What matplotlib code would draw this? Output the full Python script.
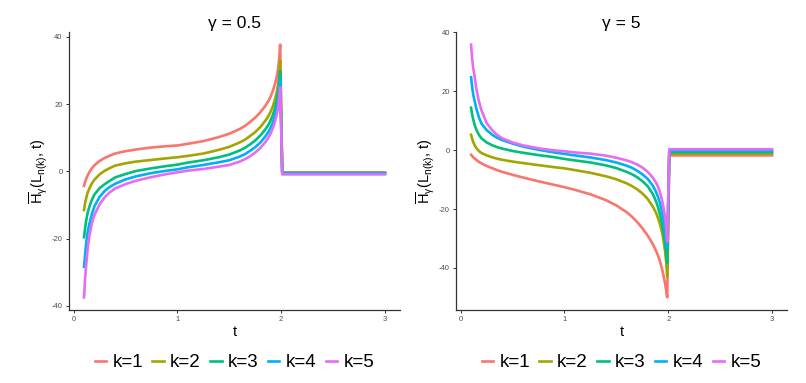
import matplotlib
matplotlib.use("Agg")
import matplotlib.pyplot as plt

plt.rcParams['font.family'] = ['Liberation Sans', 'DejaVu Sans']
plt.rcParams['mathtext.fontset'] = 'custom'
plt.rcParams['mathtext.rm'] = 'Liberation Sans'
plt.rcParams['mathtext.it'] = 'Liberation Sans'
plt.rcParams['mathtext.default'] = 'regular'
plt.rcParams['axes.unicode_minus'] = False

# valeurs
t = [0.1, 0.11, 0.12, 0.135, 0.15, 0.175, 0.2, 0.25, 0.3, 0.35, 0.4, 0.5, 0.6,
     0.75, 0.9, 1.0, 1.1, 1.25, 1.4, 1.5, 1.6, 1.65, 1.7, 1.75, 1.8, 1.85,
     1.88, 1.9, 1.92, 1.94, 1.96, 1.97, 1.98, 1.99, 2.01, 3.0]

labels = ["k=1", "k=2", "k=3", "k=4", "k=5"]
colors = ["#F8766D", "#A3A500", "#00BF7D", "#00B0F6", "#E76BF3"]

# gamma = 0.5
g05_k1 = [-4.3, -3.2, -2.3, -1.2, -0.3, 0.9, 1.8, 3.1, 4.0, 4.7, 5.3, 6.0, 6.5,
          7.1, 7.5, 7.7, 8.2, 9.0, 10.2, 11.2, 12.6, 13.5, 14.7, 16.0, 17.6, 19.6,
          21.1, 22.4, 24.0, 26.0, 28.6, 30.5, 33.2, 37.7, -0.4, -0.4]
g05_k2 = [-11.5, -9.4, -8.1, -6.3, -5.2, -3.6, -2.5, -0.9, 0.2, 1.0, 1.7, 2.4, 2.9,
          3.4, 3.9, 4.2, 4.6, 5.3, 6.4, 7.3, 8.6, 9.4, 10.5, 11.7, 13.2, 15.2,
          16.6, 17.9, 19.4, 21.4, 24.0, 25.9, 28.6, 33.0, -0.45, -0.45]
g05_k3 = [-19.6, -17.0, -14.8, -12.3, -10.7, -8.5, -6.9, -5.0, -3.8, -2.8, -1.8, -0.8, 0.1,
          0.9, 1.6, 2.0, 2.6, 3.3, 4.2, 5.0, 6.2, 7.0, 8.0, 9.2, 10.7, 12.6,
          14.0, 15.3, 16.8, 18.8, 21.4, 23.2, 25.8, 29.8, -0.5, -0.5]
g05_k4 = [-28.4, -25.0, -21.5, -18.0, -15.8, -12.8, -10.4, -7.6, -5.8, -4.6, -3.7, -2.4, -1.5,
          -0.5, 0.2, 0.6, 1.2, 1.9, 2.7, 3.3, 4.4, 5.1, 6.1, 7.2, 8.6, 10.5,
          11.9, 13.1, 14.6, 16.6, 19.2, 21.0, 23.6, 27.5, -0.55, -0.55]
g05_k5 = [-37.5, -32.0, -28.2, -23.0, -19.5, -15.5, -13.0, -9.8, -7.7, -6.2, -5.1, -3.8, -2.8,
          -1.7, -0.8, -0.3, 0.2, 0.7, 1.4, 1.9, 2.9, 3.6, 4.5, 5.6, 7.0, 8.8,
          10.2, 11.4, 12.9, 14.8, 17.3, 19.0, 21.5, 25.0, -0.9, -0.9]

# gamma = 5
g5_k1 = [-1.6, -2.0, -2.4, -2.9, -3.3, -4.0, -4.5, -5.4, -6.1, -6.8, -7.4, -8.4, -9.3,
         -10.6, -11.8, -12.6, -13.5, -15.0, -17.0, -18.8, -21.1, -22.6, -24.4, -26.5, -28.9, -31.8,
         -34.0, -35.7, -37.7, -40.3, -43.6, -45.4, -47.5, -50.0, -1.8, -1.8]
g5_k2 = [5.2, 3.9, 2.8, 1.6, 0.7, -0.3, -1.0, -1.8, -2.4, -2.9, -3.3, -3.9, -4.4,
         -5.1, -5.8, -6.2, -6.8, -7.7, -8.9, -9.9, -11.3, -12.2, -13.3, -14.7, -16.5, -19.1,
         -21.1, -22.9, -25.1, -27.9, -31.9, -34.5, -37.9, -43.0, -1.2, -1.2]
g5_k3 = [14.4, 12.2, 10.5, 8.5, 7.0, 5.2, 4.0, 2.6, 1.7, 1.0, 0.5, -0.3, -0.9,
         -1.7, -2.4, -3.0, -3.5, -4.2, -5.2, -6.1, -7.4, -8.2, -9.2, -10.5, -12.2, -14.8,
         -17.2, -19.2, -21.8, -25.0, -29.2, -32.0, -35.0, -38.4, -0.7, -0.7]
g5_k4 = [24.7, 21.5, 19.0, 16.5, 14.2, 11.2, 9.0, 6.8, 5.3, 4.2, 3.4, 2.2, 1.2,
         0.1, -0.8, -1.3, -1.8, -2.5, -3.4, -4.2, -5.3, -6.0, -7.0, -8.2, -9.7, -12.0,
         -14.0, -15.8, -18.0, -21.0, -24.8, -27.4, -30.2, -33.0, -0.2, -0.2]
g5_k5 = [35.8, 31.2, 28.0, 24.8, 21.0, 16.6, 13.5, 9.2, 6.9, 5.2, 4.0, 2.6, 1.6,
         0.6, -0.1, -0.4, -0.8, -1.2, -1.9, -2.6, -3.5, -4.1, -4.9, -5.9, -7.3, -9.3,
         -10.9, -12.3, -14.3, -17.0, -20.6, -23.0, -26.2, -31.0, 0.3, 0.3]

panels = [
    ("\u03b3 = 0.5", [g05_k1, g05_k2, g05_k3, g05_k4, g05_k5]),
    ("\u03b3 = 5", [g5_k1, g5_k2, g5_k3, g5_k4, g5_k5]),
]

fig = plt.figure(figsize=(8.06, 3.83), dpi=100)
positions = [[0.0856, 0.1906, 0.4107, 0.7258], [0.5658, 0.1906, 0.4107, 0.7258]]

for pos, (title, series) in zip(positions, panels):
    ax = fig.add_axes(pos)
    for y, c, lab in zip(series, colors, labels):
        ax.plot(t, y, color=c, lw=1.9, label=lab)
    ax.set_title(title, fontsize=12.5, pad=3)
    ax.set_xticks([0, 1, 2, 3])
    ax.set_yticks([-40, -20, 0, 20, 40])
    ax.set_xlabel("t", fontsize=10.5, labelpad=1)
    ax.set_ylabel(r"$\overline{H}_{\gamma}(L_{n(k)},\,t)$", fontsize=10.5, labelpad=2)
    for s in ["top", "right"]:
        ax.spines[s].set_visible(False)
    for s in ["left", "bottom"]:
        ax.spines[s].set_color("#333333")
        ax.spines[s].set_linewidth(0.9)
    ax.tick_params(labelsize=5.5, colors="#333333", length=2.5, width=0.7,
                   labelcolor="#4D4D4D", pad=2)
    ax.legend(loc="center", bbox_to_anchor=(0.5, -0.19), ncol=5, frameon=False,
              fontsize=13.5, handlelength=0.6, handletextpad=0.35,
              columnspacing=0.5, borderaxespad=0)

fig.savefig("out.png", dpi=100)
